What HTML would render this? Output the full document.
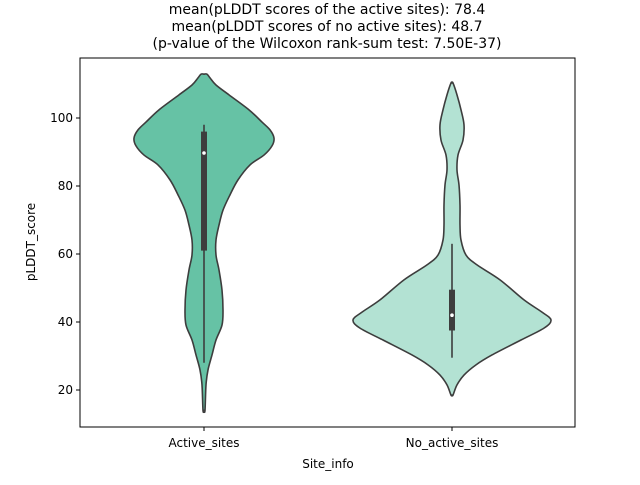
<!DOCTYPE html>
<html><head><meta charset="utf-8"><style>
body{margin:0;background:#fff}
svg text{font-family:"DejaVu Sans","Liberation Sans",sans-serif;fill:#000}
</style></head><body>
<svg id="chart" width="640" height="480" viewBox="0 0 640 480">
<g>
<text x="327" y="14" font-size="14" text-anchor="middle">mean(pLDDT scores of the active sites): 78.4</text>
<text x="327" y="31" font-size="14" text-anchor="middle">mean(pLDDT scores of no active sites): 48.7</text>
<text x="327" y="48" font-size="14" text-anchor="middle">(p-value of the Wilcoxon rank-sum test: 7.50E-37)</text>
</g>
<g id="plot"></g>
<rect x="80" y="58" width="495" height="369" fill="none" stroke="#000" stroke-width="1"/>
<text x="328" y="468" font-size="12" text-anchor="middle">Site_info</text>
<text transform="translate(35,242) rotate(-90)" font-size="12" text-anchor="middle">pLDDT_score</text>
</svg>
<script>
const categories=["Active_sites","No_active_sites"];
const yTicks=[20,40,60,80,100];
const colors=["#66c2a5","#b3e2d3"];
const v1Values=[112.9,111.8,109.7,106.8,102.4,98.8,96.5,94.1,91.8,89.1,86.2,81.8,77.4,72.9,68.5,64.1,59.7,55.3,49.4,43.5,39.1,34.7,30.3,25.9,21.5,14];
const v1Density=[3,6,12,25,45,58,66,70,68,60,46,34,26,19,15,12,12,15,18,19,18,12,8,4,2,1];
const v2Values=[110.3,106.8,102.4,98,93.5,89.1,84.7,80.3,74.4,68.5,64.1,59.7,56.8,52.4,46.5,42.9,40.6,38.2,34.7,30.3,27.4,24.4,21.5,18.5];
const v2Density=[1,5,9,12,11,6,5,7,8,8,9,14,25,48,72,90,99,92,69,40,24,12,5,1];
const boxQ1=[61,37.5], boxQ3=[96,49.5], medians=[89.7,42], whiskLo=[28,29.5], whiskHi=[98,63];
const NS="http://www.w3.org/2000/svg";
const plot=document.getElementById('plot');
function y(v){return 390-(v-20)*3.4;}
function x(i){return 204+i*248;}
function mk(t,a){const e=document.createElementNS(NS,t);for(const k in a)e.setAttribute(k,a[k]);plot.appendChild(e);return e;}
function spline(pts){let d="M"+pts[0][0]+","+pts[0][1];for(let i=0;i<pts.length-1;i++){const p0=pts[i-1]||pts[i],p1=pts[i],p2=pts[i+1],p3=pts[i+2]||p2;
const c1=[p1[0]+(p2[0]-p0[0])/6,p1[1]+(p2[1]-p0[1])/6],c2=[p2[0]-(p3[0]-p1[0])/6,p2[1]-(p3[1]-p1[1])/6];
d+=" C"+c1[0].toFixed(2)+","+c1[1].toFixed(2)+" "+c2[0].toFixed(2)+","+c2[1].toFixed(2)+" "+p2[0].toFixed(2)+","+p2[1].toFixed(2);}return d;}
[[v1Values,v1Density],[v2Values,v2Density]].forEach((s,i)=>{
const cx=x(i);
const right=s[0].map((v,j)=>[cx+s[1][j],y(v)]);
const left=s[0].map((v,j)=>[cx-s[1][j],y(v)]).reverse();
const pts=[[cx,y(s[0][0])]].concat(right,[[cx,y(s[0][s[0].length-1])]],left,[[cx,y(s[0][0])]]);
const p=mk('path',{d:spline(pts)+" Z",fill:colors[i],stroke:'#3d3d3d','stroke-width':1.6});


const w=mk('line',{x1:cx,x2:cx,y1:y(whiskLo[i]),y2:y(whiskHi[i]),stroke:'#3d3d3d','stroke-width':1.6});


const b=mk('rect',{x:cx-3,width:6,y:y(boxQ3[i]),height:y(boxQ1[i])-y(boxQ3[i]),fill:'#3d3d3d'});


const m=mk('circle',{cx:cx,cy:y(medians[i]),r:1.8,fill:'#fff'});


const t=mk('line',{x1:cx,x2:cx,y1:427,y2:431,stroke:'#000'});


const l=mk('text',{x:cx,y:447,'font-size':12,'text-anchor':'middle'});l.textContent=categories[i];


});
yTicks.forEach(v=>{
const t=mk('line',{x1:76,x2:80,y1:y(v),y2:y(v),stroke:'#000'});


const l=mk('text',{x:73,y:y(v)+4,'font-size':12,'text-anchor':'end'});l.textContent=v;


});
</script>
</body></html>
